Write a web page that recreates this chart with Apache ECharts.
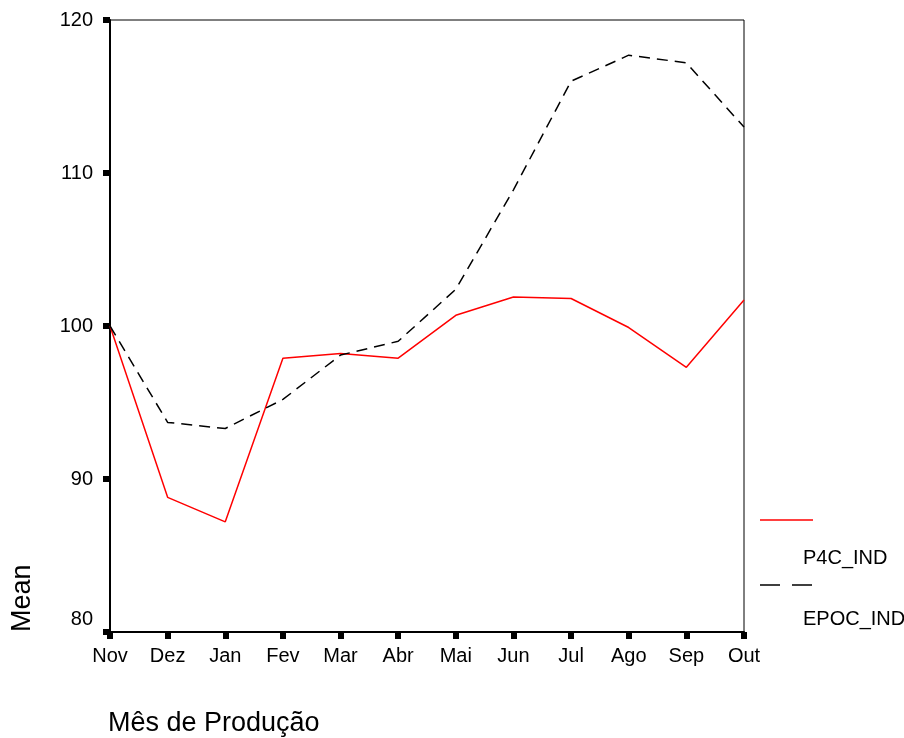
<!DOCTYPE html>
<html>
<head>
<meta charset="utf-8">
<script src="https://cdn.jsdelivr.net/npm/echarts@6/dist/echarts.min.js"></script>
<style>html,body{margin:0;padding:0;background:#fff}#c{width:904px;height:738px}</style>
</head>
<body>
<div id="c"></div>
<script>
const months = ['Nov','Dez','Jan','Fev','Mar','Abr','Mai','Jun','Jul','Ago','Sep','Out'];
const p4cInd = [100.0, 88.8, 87.2, 97.9, 98.2, 97.9, 100.7, 101.9, 101.8, 99.9, 97.3, 101.7];
const epocInd = [100.0, 93.7, 93.3, 95.2, 98.1, 99.0, 102.4, 108.9, 116.0, 117.7, 117.2, 113.0];
const yTicks = [80, 90, 100, 110, 120];

const FONT = '"Liberation Sans", Arial, sans-serif';
const chart = echarts.init(document.getElementById('c'), null, {renderer: 'canvas'});
chart.setOption({
  backgroundColor: '#fff',
  animation: false,
  grid: {left: 110, right: 160, top: 20, bottom: 106, containLabel: false, outerBoundsMode: 'none',
         show: true, borderColor: '#000', borderWidth: 1, backgroundColor: 'transparent'},
  xAxis: {
    type: 'category', data: months, boundaryGap: false,
    axisLine: {lineStyle: {color: '#000', width: 2}},
    axisTick: {show: true, interval: 0, length: 7, lineStyle: {color: '#000', width: 6}},
    axisLabel: {interval: 0, fontFamily: FONT, fontSize: 20, color: '#000', margin: 14, hideOverlap: false},
    splitLine: {show: false}
  },
  yAxis: {
    type: 'value', min: 80, max: 120, interval: 10,
    axisLine: {show: true, lineStyle: {color: '#000', width: 2}},
    axisTick: {show: true, length: 7, lineStyle: {color: '#000', width: 6}},
    axisLabel: {
      fontFamily: FONT, fontSize: 20, color: '#000', margin: 17,
      formatter: function (v) { return v === yTicks[0] ? '{low|' + v + '}' : String(v); },
      rich: {low: {fontFamily: FONT, fontSize: 20, color: '#000', padding: [0, 0, 26, 0]}}
    },
    splitLine: {show: false}
  },
  series: [
    {name: 'P4C_IND', type: 'line', data: p4cInd, symbol: 'none', lineStyle: {color: '#ff0000', width: 1.5}},
    {name: 'EPOC_IND', type: 'line', data: epocInd, symbol: 'none', lineStyle: {color: '#000', width: 1.5, type: [11, 7]}}
  ],
  graphic: [
    {type: 'text', left: 108, top: 710, style: {text: 'Mês de Produção', font: '27px ' + FONT, fill: '#000'}},
    {type: 'text', x: 9, y: 632, rotation: Math.PI / 2, style: {text: 'Mean', font: '27px ' + FONT, fill: '#000', align: 'left', verticalAlign: 'top'}},
    {type: 'line', shape: {x1: 760, y1: 520, x2: 813, y2: 520}, style: {stroke: '#ff0000', lineWidth: 1.5}},
    {type: 'text', left: 803, top: 548, style: {text: 'P4C_IND', font: '20px ' + FONT, fill: '#000'}},
    {type: 'line', shape: {x1: 760, y1: 585, x2: 813, y2: 585}, style: {stroke: '#000', lineWidth: 1.5, lineDash: [20, 12]}},
    {type: 'text', left: 803, top: 609, style: {text: 'EPOC_IND', font: '20px ' + FONT, fill: '#000'}}
  ]
});
</script>
</body>
</html>
